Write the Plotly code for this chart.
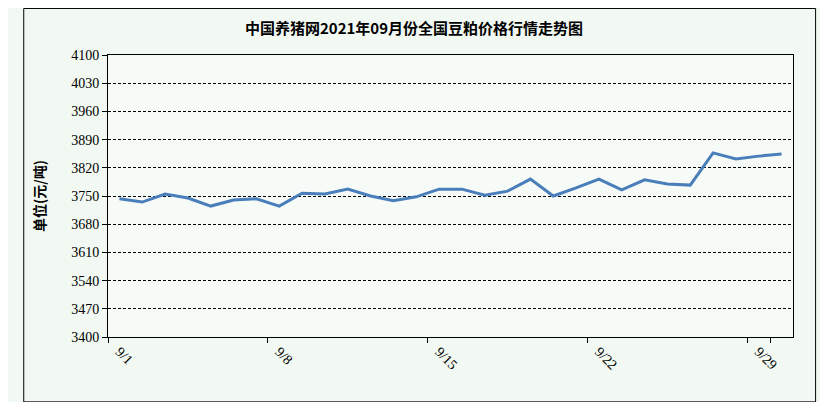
import plotly.graph_objects as go

dates = [f"9/{d}" for d in range(1, 31)]
prices = [3743, 3735, 3755, 3745, 3725, 3740, 3743, 3725, 3757, 3755,
          3767, 3750, 3738, 3748, 3767, 3767, 3752, 3762, 3792, 3750,
          3770, 3792, 3765, 3790, 3780, 3777, 3857, 3842, 3849, 3854]
yticks = list(range(3400, 4101, 70))
xtick_labels = ["9/1", "9/8", "9/15", "9/22", "9/29"]

fig = go.Figure(go.Scatter(x=dates, y=prices, mode="lines",
                           line=dict(color="#4a7ebb", width=3)))
fig.update_layout(
    width=812, height=394,
    margin=dict(l=100, r=27, t=47, b=65),
    paper_bgcolor="#f2f9f2", plot_bgcolor="#f7fbf7",
    title=dict(text="<b>中国养猪网2021年09月份全国豆粕价格行情走势图</b>",
               x=0.5, y=0.96, xanchor="center",
               font=dict(family="Noto Sans CJK SC", size=15, color="#000")),
    showlegend=False,
    font=dict(family="Liberation Serif", color="#000", size=14),
    shapes=[dict(type="rect", xref="paper", yref="paper", x0=-0.123, x1=1.033,
                 y0=-0.23, y1=1.165, line=dict(color="#000", width=1))],
)
fig.update_xaxes(type="category", tickvals=xtick_labels, ticktext=xtick_labels,
                 range=[-0.5, 29.5], tickson="boundaries",
                 tickangle=45, showgrid=False, showline=True, linecolor="#000",
                 mirror=True, ticks="outside", ticklen=5, tickcolor="#000")
fig.update_yaxes(range=[3400, 4100], tickvals=yticks, showgrid=True,
                 gridcolor="#000", griddash="3px,2px", gridwidth=0.7,
                 showline=True, linecolor="#000", mirror=True,
                 ticks="outside", ticklen=5, tickcolor="#000",
                 title=dict(text="<b>单位(元/吨)</b>", standoff=22,
                            font=dict(family="Noto Sans CJK SC", size=14)))
fig.write_html("out.html")
